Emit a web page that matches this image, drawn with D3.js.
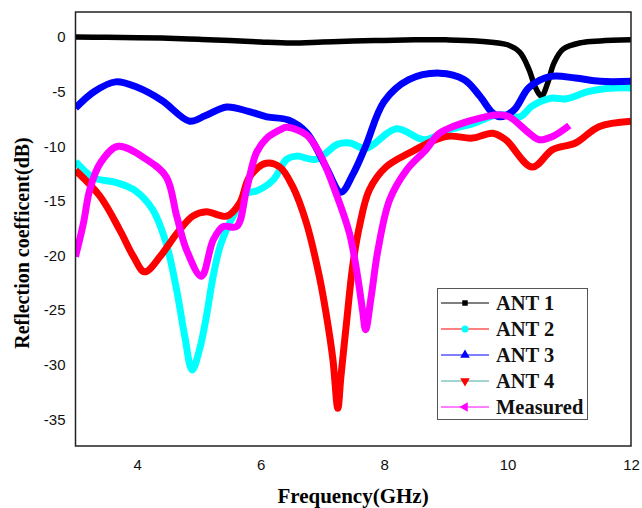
<!DOCTYPE html>
<html>
<head>
<meta charset="utf-8">
<script src="https://cdn.jsdelivr.net/npm/d3@7"></script>
<style>
  body { margin: 0; background: #fff; }
  svg { display: block; }
</style>
</head>
<body>
<div id="chart"></div>
<script>
// Reflection coefficient readings (frequency in GHz, value in dB)
const ant1Freq = [3, 3.5, 4, 4.5, 5, 5.5, 6, 6.5, 7, 7.5, 8, 8.5, 9, 9.5, 10, 10.2, 10.35, 10.45, 10.55, 10.65, 10.75, 10.9, 11.2, 11.5, 12];
const ant1Val  = [0, -0.02, -0.05, -0.1, -0.2, -0.3, -0.45, -0.55, -0.45, -0.35, -0.3, -0.25, -0.25, -0.35, -0.7, -1.4, -3.0, -4.6, -5.4, -4.2, -2.4, -1.1, -0.5, -0.35, -0.25];

const ant2Freq = [3, 3.3, 3.65, 3.95, 4.25, 4.47, 4.64, 4.77, 4.89, 5.01, 5.12, 5.23, 5.34, 5.45, 5.61, 5.77, 5.93, 6.2, 6.42, 6.58, 6.9, 7.25, 7.45, 7.7, 8.2, 8.65, 9.05, 9.45, 9.85, 10.2, 10.4, 10.7, 10.95, 11.3, 11.6, 12];
const ant2Val  = [-11.4, -12.9, -13.3, -14.0, -15.8, -18.9, -23.2, -27.4, -30.5, -28.6, -25.6, -21.9, -19.2, -17.6, -15.8, -14.3, -14.1, -13.1, -11.2, -10.9, -11.2, -9.8, -9.7, -10.2, -8.4, -9.4, -8.5, -7.9, -7.1, -7.3, -6.3, -5.6, -5.65, -5.0, -4.7, -4.65];

const ant3Freq = [3, 3.3, 3.65, 4, 4.4, 4.85, 5.1, 5.45, 5.8, 6.1, 6.45, 6.75, 7.05, 7.3, 7.5, 7.7, 8.0, 8.4, 8.9, 9.3, 9.55, 9.75, 9.87, 10.1, 10.35, 10.7, 11.1, 11.5, 12];
const ant3Val  = [-6.5, -5.0, -4.1, -4.6, -5.8, -7.7, -7.2, -6.4, -6.8, -7.3, -7.6, -8.8, -11.8, -14.2, -12.5, -10.0, -5.9, -3.9, -3.3, -3.9, -5.4, -6.9, -7.3, -6.7, -4.6, -3.6, -3.75, -4.05, -4.05];

const ant4Freq = [3, 3.4, 3.72, 3.94, 4.12, 4.37, 4.64, 4.9, 5.12, 5.45, 5.66, 5.82, 6.09, 6.31, 6.52, 6.74, 6.95, 7.06, 7.17, 7.25, 7.3, 7.39, 7.49, 7.6, 7.76, 8.03, 8.41, 9.0, 9.43, 9.76, 9.97, 10.4, 10.73, 11.1, 11.48, 12];
const ant4Val  = [-12.2, -14.6, -17.7, -20.1, -21.5, -20.1, -18.0, -16.4, -16.0, -16.4, -15.2, -12.8, -11.55, -11.9, -13.7, -17.0, -21.9, -25.3, -29.5, -34.0, -31.1, -26.2, -21.0, -17.35, -14.0, -11.9, -10.6, -9.1, -9.25, -8.8, -9.4, -11.9, -10.3, -9.7, -8.2, -7.7];

const measFreq = [3, 3.13, 3.23, 3.4, 3.69, 4.15, 4.47, 4.64, 4.8, 5.04, 5.23, 5.39, 5.61, 5.77, 5.93, 6.09, 6.31, 6.42, 6.74, 6.95, 7.22, 7.44, 7.57, 7.65, 7.7, 7.79, 7.9, 8.09, 8.36, 8.68, 8.9, 9.43, 9.87, 10.03, 10.35, 10.51, 10.73, 11.0];
const measVal  = [-20.1, -17.0, -14.0, -11.55, -10.0, -11.2, -12.8, -16.4, -19.5, -21.9, -18.6, -17.35, -17.35, -14.0, -10.6, -9.3, -8.5, -8.25, -8.95, -10.6, -14.3, -18.0, -21.9, -25.0, -26.8, -23.8, -19.5, -14.9, -12.2, -10.3, -8.8, -7.6, -7.1, -7.3, -8.8, -9.4, -9.1, -8.1];

const seriesNames = ["ANT 1", "ANT 2", "ANT 3", "ANT 4", "Measured"];
const xTicks = [4, 6, 8, 10, 12];
const yTicks = [0, -5, -10, -15, -20, -25, -30, -35];

const W = 642, H = 508;
const plotL = 75.5, plotR = 631, plotT = 12, plotB = 446;

const svg = d3.select("#chart").append("svg")
    .attr("width", W)
    .attr("height", H);

const x = d3.scaleLinear().domain([3, 12]).range([plotL, plotR]);
const y = d3.scaleLinear().domain([-37.45, 2.3]).range([plotB, plotT]);

// series definitions: curve colour, legend line colour, marker
const series = [
    {name: seriesNames[0], f: ant1Freq, v: ant1Val, color: "#000000", line: "#000000", marker: "square", width: 5.5},
    {name: seriesNames[1], f: ant2Freq, v: ant2Val, color: "#00ffff", line: "#ff0000", marker: "circle", width: 7},
    {name: seriesNames[2], f: ant3Freq, v: ant3Val, color: "#0000ff", line: "#0000ff", marker: "triangle", width: 7},
    {name: seriesNames[3], f: ant4Freq, v: ant4Val, color: "#ff0000", line: "#4aa9a3", marker: "down", width: 7},
    {name: seriesNames[4], f: measFreq, v: measVal, color: "#ff00ff", line: "#ff00ff", marker: "left", width: 7}
];

const line = d3.line()
    .x(d => x(d[0]))
    .y(d => y(d[1]))
    .curve(d3.curveCatmullRom.alpha(0.5));

svg.append("clipPath").attr("id", "plotclip")
    .append("rect")
    .attr("x", plotL).attr("y", plotT)
    .attr("width", plotR - plotL).attr("height", plotB - plotT);

const plot = svg.append("g").attr("clip-path", "url(#plotclip)");

series.forEach(s => {
    plot.append("path")
        .datum(s.f.map((f, i) => [f, s.v[i]]))
        .attr("fill", "none")
        .attr("stroke", s.color)
        .attr("stroke-width", s.width)
        .attr("stroke-linejoin", "round")
        .attr("d", line);
});

// frame
svg.append("rect")
    .attr("x", plotL).attr("y", plotT)
    .attr("width", plotR - plotL).attr("height", plotB - plotT)
    .attr("fill", "none")
    .attr("stroke", "#222")
    .attr("stroke-width", 1.5);

// axes (labels only, no tick marks)
const xAxis = svg.append("g")
    .attr("transform", `translate(0,${plotB})`)
    .call(d3.axisBottom(x).tickValues(xTicks).tickSize(0).tickPadding(13).tickFormat(d => String(d)));
xAxis.select(".domain").remove();
xAxis.selectAll("text")
    .attr("font-family", "Liberation Sans, Arial, sans-serif")
    .attr("font-size", 15)
    .attr("fill", "#111");

const yAxis = svg.append("g")
    .attr("transform", `translate(${plotL},0)`)
    .call(d3.axisLeft(y).tickValues(yTicks).tickSize(0).tickPadding(10).tickFormat(d => String(d)));
yAxis.select(".domain").remove();
yAxis.selectAll("text")
    .attr("font-family", "Liberation Sans, Arial, sans-serif")
    .attr("font-size", 15)
    .attr("fill", "#111");

// axis titles
svg.append("text")
    .attr("x", 353)
    .attr("y", 503)
    .attr("text-anchor", "middle")
    .attr("font-family", "Liberation Serif, Times New Roman, serif")
    .attr("font-weight", "bold")
    .attr("font-size", 21)
    .text("Frequency(GHz)");

svg.append("text")
    .attr("transform", "translate(29,243) rotate(-90)")
    .attr("text-anchor", "middle")
    .attr("font-family", "Liberation Serif, Times New Roman, serif")
    .attr("font-weight", "bold")
    .attr("font-size", 20)
    .text("Reflection coefficent(dB)");

// legend
const legend = svg.append("g");
legend.append("rect")
    .attr("x", 437.5).attr("y", 288.5)
    .attr("width", 150).attr("height", 131)
    .attr("fill", "#fff")
    .attr("stroke", "#555")
    .attr("stroke-width", 1);

const sym = {
    square: d3.symbol().type(d3.symbolSquare).size(30),
    circle: d3.symbol().type(d3.symbolCircle).size(40),
    triangle: d3.symbol().type(d3.symbolTriangle).size(40),
    down: d3.symbol().type(d3.symbolTriangle).size(40),
    left: d3.symbol().type(d3.symbolTriangle).size(40)
};
const rot = {square: 0, circle: 0, triangle: 0, down: 180, left: -90};

const item = legend.selectAll("g.item")
    .data(series)
    .enter().append("g")
    .attr("class", "item")
    .attr("transform", (d, i) => `translate(0,${303 + i * 26})`);

item.append("line")
    .attr("x1", 441).attr("x2", 489)
    .attr("y1", 0).attr("y2", 0)
    .attr("stroke", d => d.line)
    .attr("stroke-width", 1);

item.append("path")
    .attr("d", d => sym[d.marker]())
    .attr("transform", d => `translate(465,0) rotate(${rot[d.marker]})`)
    .attr("fill", d => d.color);

item.append("text")
    .attr("x", 496)
    .attr("y", 7)
    .attr("font-family", "Liberation Serif, Times New Roman, serif")
    .attr("font-weight", "bold")
    .attr("font-size", 20.5)
    .attr("fill", "#111")
    .text(d => d.name);
</script>
</body>
</html>
